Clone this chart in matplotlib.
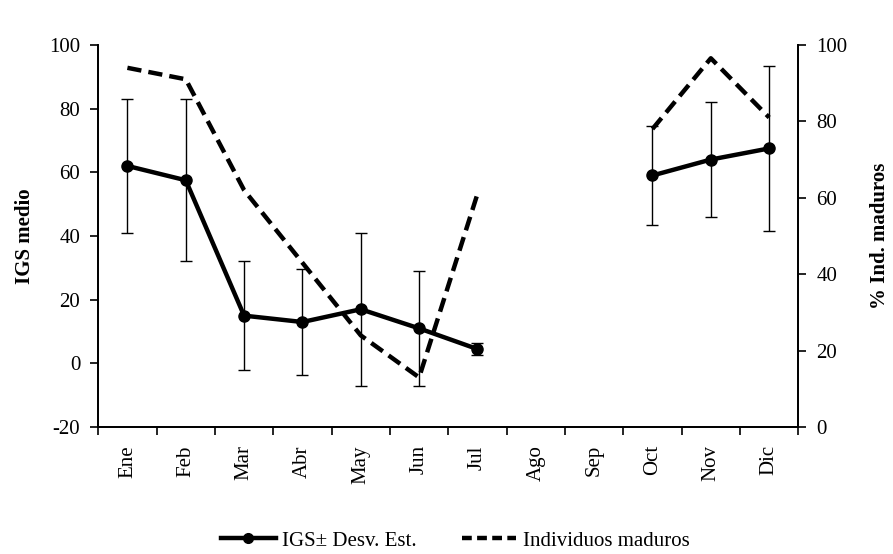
import numpy as np
import matplotlib
matplotlib.use("Agg")
import matplotlib.pyplot as plt
from matplotlib.lines import Line2D
from matplotlib.ticker import FixedLocator, NullFormatter

plt.rcParams['font.family'] = ['Liberation Serif', 'DejaVu Serif']
plt.rcParams['axes.unicode_minus'] = False

meses = ["Ene", "Feb", "Mar", "Abr", "May", "Jun", "Jul", "Ago", "Sep", "Oct", "Nov", "Dic"]
igs_medio = [62, 57.5, 15, 13, 17, 11, 4.5, np.nan, np.nan, 59, 64, 67.5]
igs_desv = [21, 25.5, 17, 16.7, 24, 18, 2, np.nan, np.nan, 15.5, 18, 26]
ind_maduros = [94, 91, 62, 43, 24, 13, 61, np.nan, np.nan, 78, 96.5, 81]

fig, ax = plt.subplots(figsize=(8.93, 5.54), dpi=100)
fig.subplots_adjust(left=0.110, right=0.894, bottom=0.229, top=0.919)
ax2 = ax.twinx()

x = np.arange(len(meses))

# IGS with standard deviation
ax.errorbar(x, igs_medio, yerr=igs_desv, color='black', lw=3.2, marker='o', ms=8,
            ecolor='black', elinewidth=1.0, capsize=4.5, capthick=1.0)

# mature individuals on the secondary axis
ax2.plot(x, ind_maduros, color='black', lw=3.2, ls=(0, (3.2, 1.6)))

ax.set_xlim(-0.5, len(meses) - 0.5)
ax.set_ylim(-20, 100)
ax.set_yticks(range(-20, 101, 20))
ax2.set_ylim(0, 100)
ax2.set_yticks(range(0, 101, 20))

# ticks sit between the months, labels at the centres
ax.xaxis.set_major_locator(FixedLocator(np.arange(-0.5, len(meses), 1)))
ax.xaxis.set_major_formatter(NullFormatter())
ax.xaxis.set_minor_locator(FixedLocator(x))
ax.set_xticklabels(meses, minor=True, rotation=90)
ax.tick_params(axis='x', which='major', length=6, width=1.2, direction='out')
ax.tick_params(axis='x', which='minor', length=0, pad=13, labelsize=15)
ax.tick_params(axis='y', length=6, width=1.2, direction='out', labelsize=15, pad=7)
ax2.tick_params(axis='y', length=6, width=1.2, direction='out', labelsize=15, pad=7)

for a in (ax, ax2):
    a.spines['top'].set_visible(False)
    for s in ('left', 'right', 'bottom'):
        a.spines[s].set_linewidth(1.3)

ax.set_ylabel("IGS medio", fontsize=15, fontweight='bold', labelpad=10)
ax2.set_ylabel("% Ind. maduros", fontsize=15, fontweight='bold', labelpad=16)

handles = [
    Line2D([], [], color='black', lw=3.2, marker='o', ms=7),
    Line2D([], [], color='black', lw=3.2, ls=(0, (2.2, 1.2))),
]
labels = [u"IGS\u00b1 Desv. Est.", "Individuos maduros"]
fig.legend(handles, labels, loc='lower center', bbox_to_anchor=(0.51, -0.028),
           ncol=2, frameon=False, fontsize=15, handlelength=2.6,
           columnspacing=2.2, handletextpad=0.3)

fig.savefig("out.png", dpi=100)
